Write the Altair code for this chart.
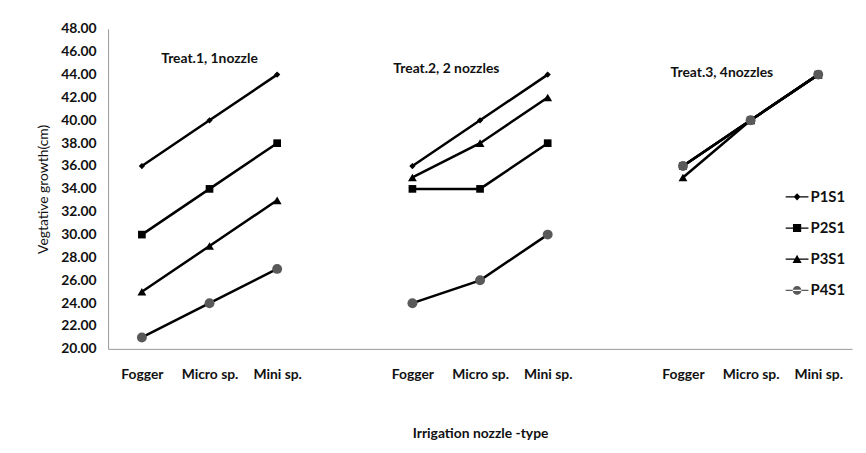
import altair as alt
import pandas as pd

nozzles = ["Fogger", "Micro sp.", "Mini sp."]
treat_groups = ["1", "2", "3"]
series = ["P1S1", "P2S1", "P3S1", "P4S1"]

# values per treatment group, per series, over nozzles
t1 = {"P1S1": [36, 40, 44], "P2S1": [30, 34, 38], "P3S1": [25, 29, 33], "P4S1": [21, 24, 27]}
t2 = {"P1S1": [36, 40, 44], "P2S1": [34, 34, 38], "P3S1": [35, 38, 42], "P4S1": [24, 26, 30]}
t3 = {"P1S1": [36, 40, 44], "P2S1": [36, 40, 44], "P3S1": [35, 40, 44], "P4S1": [36, 40, 44]}
tables = {"1": t1, "2": t2, "3": t3}

ann_text = ["Treat.1, 1nozzle", "Treat.2, 2 nozzles", "Treat.3, 4nozzles"]
ann_x = ["1|Micro sp.", "2|Micro sp.", "3|Micro sp."]
ann_y = [45.4, 44.45, 44.1]
ann_dx = [0, -34, -29]

domain = []
for i, g in enumerate(treat_groups):
    domain += [f"{g}|{n}" for n in nozzles]
    if i < len(treat_groups) - 1:
        domain.append(f"gap{g}")

rows = []
for g in treat_groups:
    for s in series:
        for n, v in zip(nozzles, tables[g][s]):
            rows.append({"key": f"{g}|{n}", "group": g, "series": s, "value": v,
                         "order": series.index(s)})
df = pd.DataFrame(rows)
ann = pd.DataFrame({"text": ann_text, "key": ann_x, "value": ann_y, "dx": ann_dx})

FONT = "Lato"

xenc = alt.X("key:N", sort=domain,
             scale=alt.Scale(type="point", domain=domain, padding=0.5),
             axis=alt.Axis(title="Irrigation nozzle -type", labelAngle=0, ticks=False,
                           labelExpr="indexof(datum.value,'|')>0 ? split(datum.value,'|')[1] : ''",
                           labelPadding=19, labelFont=FONT, labelFontSize=14, labelFontWeight="bold",
                           labelColor="#111", titleFont=FONT, titleFontSize=14, titleFontWeight="bold",
                           titleColor="#111", titlePadding=45, domainColor="#999"))
yenc = alt.Y("value:Q", scale=alt.Scale(domain=[20, 48], nice=False, zero=False),
             axis=alt.Axis(title="Vegtative growth(cm)", values=list(range(20, 49, 2)), format=".2f",
                           grid=False, ticks=False, labelPadding=12, labelFont=FONT, labelFontSize=14,
                           labelFontWeight="bold", labelColor="#111", titleFont=FONT, titleFontSize=14,
                           titleFontWeight="normal", titleColor="#111", titlePadding=10,
                           domainColor="#999"))

lines = alt.Chart(df).mark_line(color="black", strokeWidth=2.5).encode(
    x=xenc, y=yenc, detail=["group:N", "series:N"])

shape_range = ["diamond", "square", "triangle-up", "circle"]
color_range = ["black", "black", "black", "#595959"]
points = alt.Chart(df).mark_point(filled=True, opacity=1).encode(
    x=xenc, y=yenc,
    shape=alt.Shape("series:N", scale=alt.Scale(domain=series, range=shape_range), legend=None),
    color=alt.Color("series:N", scale=alt.Scale(domain=series, range=color_range), legend=None),
    size=alt.Size("series:N", scale=alt.Scale(domain=series, range=[40, 100, 90, 100]), legend=None),
    order="order:Q")

# legend symbols: a short line stub (thin filled bar) plus the marker
stub = "M-1,-0.055H1V0.055H-1Z"
leg_paths = [
    stub + "M0,-0.32L0.3,0L0,0.32L-0.3,0Z",
    stub + "M-0.36,-0.36H0.36V0.36H-0.36Z",
    stub + "M0,-0.4L0.4,0.32H-0.4Z",
    stub + "M-0.38,0A0.38,0.38 0 1,0 0.38,0A0.38,0.38 0 1,0 -0.38,0Z",
]
leg = alt.Legend(title=None, orient="none", legendX=684, legendY=158, symbolSize=529,
                 symbolStrokeWidth=0, symbolOpacity=1, labelFont=FONT, labelFontSize=15,
                 labelFontWeight="bold", labelColor="#111", rowPadding=11.5, labelOffset=2)
legend_layer = alt.Chart(df).transform_filter("false").mark_point(
    filled=True, opacity=1, strokeWidth=0).encode(
    x=xenc, y=yenc,
    shape=alt.Shape("series:N", scale=alt.Scale(domain=series, range=leg_paths), legend=leg),
    color=alt.Color("series:N", scale=alt.Scale(domain=series, range=color_range), legend=leg))

texts = alt.layer(*[
    alt.Chart(ann.iloc[[i]]).mark_text(font=FONT, fontSize=14, fontWeight="bold", color="#111",
                                       dx=int(ann_dx[i])).encode(x=xenc, y=yenc, text="text:N")
    for i in range(len(ann_text))
])

chart = alt.layer(lines, points, legend_layer, texts).resolve_scale(
    shape="independent", color="independent").properties(
    width=751, height=323,
    autosize=alt.AutoSizeParams(type="none"),
    padding={"left": 101, "top": 19, "right": 6, "bottom": 103},
    background="white",
).configure_view(stroke=None)

chart.save("out.html", embed_options={"renderer": "svg", "actions": False})
